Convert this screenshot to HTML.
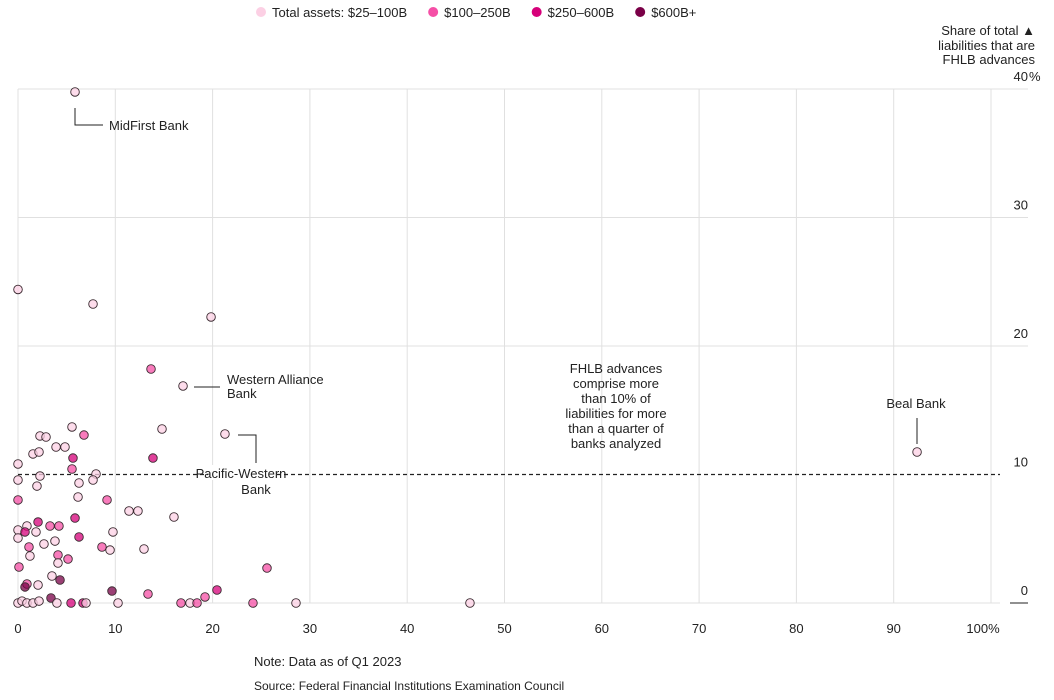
<!DOCTYPE html>
<html><head><meta charset="utf-8">
<style>
body{margin:0;background:#fff;font-family:"Liberation Sans",sans-serif;}
svg text{font-family:"Liberation Sans",sans-serif;fill:#222;}
</style></head>
<body>
<svg id="chart" width="1054" height="695" viewBox="0 0 1054 695">
<g id="legend"></g>
<g id="grid"></g>
<g id="annot"></g>
<g id="dots"></g>
<g id="labels"></g>
</svg>
<script>
const xTicks=[0,10,20,30,40,50,60,70,80,90,100];
const yTicks=[0,10,20,30,40];
const legendLabels=["Total assets: $25–100B","$100–250B","$250–600B","$600B+"];
const catColors=["#fcd0e4","#f54fa6","#d6007a","#7a0047"];
const xs=[5.86,0,7.71,19.84,92.4,46.45,5.55,2.26,2.88,6.78,3.91,4.83,1.54,2.16,5.65,0,13.87,5.55,2.26,8.02,0,1.95,6.27,7.71,6.17,0,9.15,11.41,12.33,2.06,3.29,4.21,0.92,5.86,0,0.72,1.85,9.76,0,6.27,1.13,2.67,3.8,8.63,9.46,12.95,1.23,4.11,5.14,4.11,0.1,3.49,4.32,0.92,0.72,2.06,9.66,13.36,3.39,0,0.41,0.92,1.54,2.16,4.0,5.45,6.68,6.99,10.28,13.67,16.96,14.8,21.27,16.03,25.59,20.45,19.22,16.75,17.68,18.4,24.15,28.57];
const ys=[39.77,24.4,23.27,22.26,11.75,0,13.7,13.0,12.92,13.07,12.14,12.14,11.6,11.75,11.28,10.82,11.28,10.43,9.88,10.04,9.57,9.1,9.34,9.57,8.25,8.02,8.02,7.16,7.16,6.3,5.99,5.99,5.99,6.61,5.68,5.53,5.53,5.53,5.06,5.14,4.36,4.59,4.82,4.36,4.12,4.2,3.66,3.74,3.42,3.11,2.8,2.1,1.79,1.48,1.25,1.4,0.93,0.7,0.39,0,0.15,0,0,0.15,0,0,0,0,0,18.21,16.89,13.54,13.15,6.69,2.72,1.01,0.47,0,0,0,0,0];
const cats=[0,0,0,0,0,0,0,0,0,1,0,0,0,0,2,0,2,1,0,0,0,0,0,0,0,1,1,0,0,2,1,1,0,2,0,2,0,0,0,2,1,0,0,1,0,0,0,1,1,0,1,0,3,1,3,0,3,1,3,0,0,0,0,0,0,2,2,0,0,1,0,0,0,0,1,2,1,1,0,1,1,0];
const threshold=10;

const NS="http://www.w3.org/2000/svg";
const X=v=>18+v*9.73, Y=v=>603-v*12.85;
function mk(parent,tag,attrs,text){const e=document.createElementNS(NS,tag);for(const k in attrs)e.setAttribute(k,attrs[k]);if(text!==undefined)e.textContent=text;parent.appendChild(e);return e;}
const G=id=>document.getElementById(id);

// legend
let lx=255;
legendLabels.forEach((l,i)=>{
  const c=mk(G('legend'),'circle',{cx:lx+6,cy:12,r:5,fill:catColors[i]});
  
  
  const t=mk(G('legend'),'text',{x:lx+17,y:17,'font-size':13},l);
  
  
  lx+=17+t.getComputedTextLength()+20;
});

// grid
xTicks.forEach(v=>{
  const l=mk(G('grid'),'line',{x1:X(v),x2:X(v),y1:Y(40),y2:Y(0),stroke:'#e0e0e0','stroke-width':1});
  
  
  const t=mk(G('labels'),'text',{x:X(v),y:633,'font-size':13,'text-anchor':'middle'},v===100?'100%':String(v));
  
  
  if(v===100) t.setAttribute('x',X(v)-8);
});
yTicks.forEach(v=>{
  if(v>0 && v!==threshold){
    const l=mk(G('grid'),'line',{x1:18,x2:1028,y1:Y(v),y2:Y(v),stroke:'#e0e0e0','stroke-width':1});
    
    
  }
  const t=mk(G('labels'),'text',{x:1028,y:Y(v)-8,'font-size':13,'text-anchor':'end'},String(v));
  
  
  if(v===40){const p=mk(G('labels'),'text',{x:1029,y:Y(v)-8,'font-size':13},'%');}
});
const z=mk(G('grid'),'line',{x1:18,x2:1000,y1:Y(0),y2:Y(0),stroke:'#e0e0e0'});


const zt=mk(G('grid'),'line',{x1:1010,x2:1028,y1:Y(0),y2:Y(0),stroke:'#222'});


const th=mk(G('grid'),'line',{x1:18,x2:1000,y1:Y(threshold),y2:Y(threshold),stroke:'#222','stroke-dasharray':'4,3','stroke-width':1.2});



// y title
[["Share of total ▲",35],["liabilities that are",50],["FHLB advances",64]].forEach(([s,y])=>{
  const t=mk(G('labels'),'text',{x:1035,y:y,'font-size':13,'text-anchor':'end'},s);
  
  
});

// dots
xs.forEach((v,i)=>{
  const c=mk(G('dots'),'circle',{cx:X(v),cy:Y(ys[i]),r:4.3,fill:catColors[cats[i]],'fill-opacity':0.75,stroke:'#3a2a30','stroke-width':0.9});
  
  
});

// annotations
const A=G('annot');
function path(d,name){const p=mk(A,'path',{d:d,fill:'none',stroke:'#222','stroke-width':1});}
function txt(s,x,y,anchor,name){const t=mk(A,'text',{x:x,y:y,'font-size':13,'text-anchor':anchor||'start'},s);return t;}
path('M75,108V125H103','midfirst-leader');
txt('MidFirst Bank',109,130,'start','midfirst-label');
path('M194,387H220','western-alliance-leader');
txt('Western Alliance',227,384,'start','western-alliance-label');
txt('Bank',227,398,'start','western-alliance-label');
path('M238,435H256V463','pacific-western-leader');
const bg=mk(A,'rect',{x:208,y:465,width:66,height:15,fill:'#fff'});


txt('Pacific-Western',241,478,'middle','pacific-western-label');
txt('Bank',256,494,'middle','pacific-western-label');
txt('Beal Bank',916,408,'middle','beal-label');
path('M917,418V444','beal-leader');
["FHLB advances","comprise more","than 10% of","liabilities for more","than a quarter of","banks analyzed"].forEach((s,i)=>txt(s,616,373+i*15,'middle','threshold-note'));

txt('Note: Data as of Q1 2023',254,666,'start','note');
const src=txt('Source: Federal Financial Institutions Examination Council',254,690,'start','source');
src.setAttribute('font-size',12);
</script>
</body></html>
